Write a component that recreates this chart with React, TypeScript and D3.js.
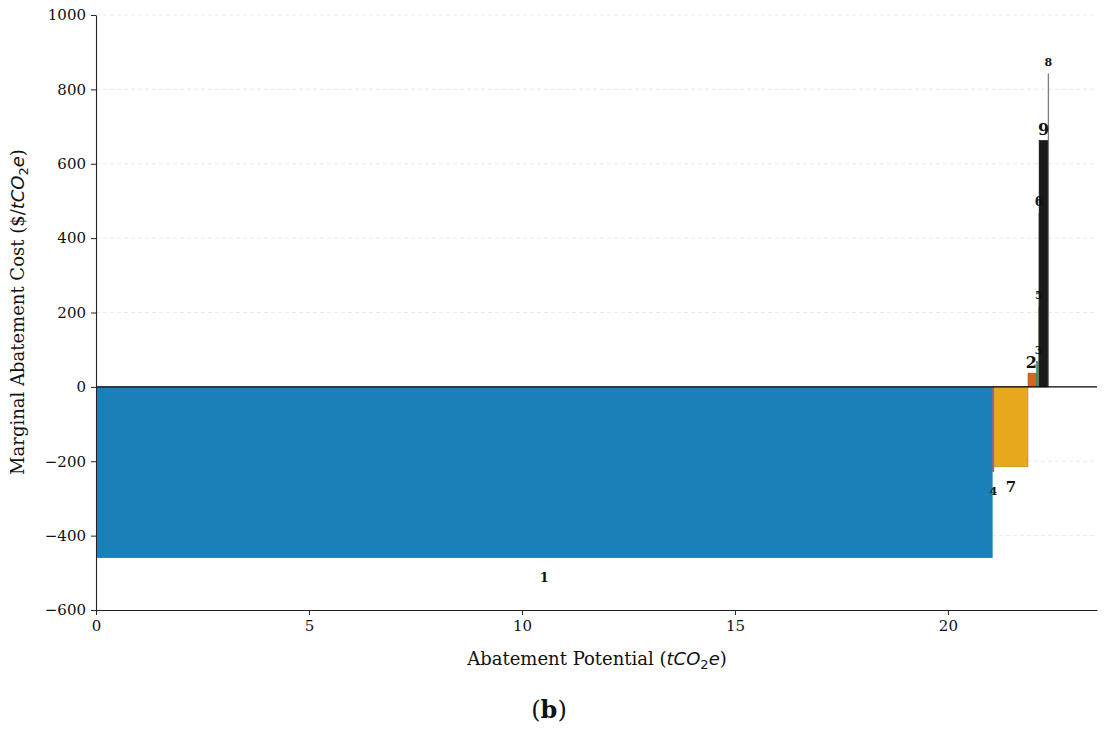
import React, { useEffect, useRef } from 'react';
import * as d3 from 'd3';

// measures in merit order (sorted by marginal cost)
const measureLabels = ['1', '4', '7', '2', '3', '5', '6', '9', '8'];
const potentials = [21.05, 0.03, 0.80, 0.2, 0.05, 0.005, 0.005, 0.21, 0.01];
const costs = [-460, -228, -215, 37, 68, 215, 467, 663, 842];
const barColors = ['#1b80b9', '#9c6478', '#e8a81e', '#d4671c', '#17a083', '#a3a02a', '#b8b8b8', '#1a1a1a', '#8a8a8a'];
const labelSizes = [13, 11, 15, 16, 11, 11, 12, 16, 11];
const xTicks = [0, 5, 10, 15, 20];
const yTicks = [-600, -400, -200, 0, 200, 400, 600, 800, 1000];

const W = 1107;
const H = 731;
const margin = { top: 15, right: 10, bottom: 121, left: 96 };

export default function App() {
  const ref = useRef<SVGSVGElement>(null);

  useEffect(() => {
    if (!ref.current) return;
    const svg = d3.select(ref.current);
    svg.selectAll('*').remove();

    const x = d3.scaleLinear().domain([0, 23.5]).range([margin.left, W - margin.right]);
    const y = d3.scaleLinear().domain([-600, 1000]).range([H - margin.bottom, margin.top]);

    const starts: number[] = [];
    let acc = 0;
    potentials.forEach(p => { starts.push(acc); acc += p; });

    const data = measureLabels.map((label, i) => ({
      label,
      x0: starts[i],
      x1: starts[i] + potentials[i],
      cost: costs[i],
      color: barColors[i],
      size: labelSizes[i],
    }));

    // grid
    svg.append('g')
      .selectAll('line')
      .data(yTicks.filter(t => t !== 0 && t !== -600))
      .enter()
      .append('line')
      .attr('x1', margin.left)
      .attr('x2', W - margin.right)
      .attr('y1', d => y(d))
      .attr('y2', d => y(d))
      .attr('stroke', '#e3e3e3')
      .attr('stroke-width', 0.8)
      .attr('stroke-dasharray', '4,3');

    // bars
    svg.append('g')
      .selectAll('rect')
      .data(data)
      .enter()
      .append('rect')
      .attr('x', d => x(d.x0))
      .attr('width', d => Math.max(0.8, x(d.x1) - x(d.x0)))
      .attr('y', d => Math.min(y(d.cost), y(0)))
      .attr('height', d => Math.abs(y(d.cost) - y(0)))
      .attr('fill', d => d.color)
      .attr('stroke', d => d3.color(d.color)!.darker(0.8).formatHex())
      .attr('stroke-width', d => (d.label === '1' ? 0 : 0.5));

    // labels
    svg.append('g')
      .selectAll('text')
      .data(data)
      .enter()
      .append('text')
      .attr('x', d => x((d.x0 + d.x1) / 2) + (d.label === '2' ? -1 : d.label === '3' ? 1 : 0))
      .attr('y', d => (d.cost >= 0 ? y(d.cost) - 11 : y(d.cost) + 20))
      .attr('text-anchor', 'middle')
      .attr('dominant-baseline', 'central')
      .attr('font-family', 'DejaVu Serif')
      .attr('font-weight', 'bold')
      .attr('font-size', d => d.size)
      .attr('fill', '#111')
      .text(d => d.label);

    // zero line
    svg.append('line')
      .attr('x1', margin.left)
      .attr('x2', W - margin.right)
      .attr('y1', y(0))
      .attr('y2', y(0))
      .attr('stroke', '#000')
      .attr('stroke-width', 1.4);

    // x axis
    const gx = svg.append('g')
      .attr('transform', `translate(0,${H - margin.bottom})`)
      .call(d3.axisBottom(x).tickValues(xTicks).tickFormat(d3.format('d')).tickSize(5).tickPadding(5).tickSizeOuter(0));
    gx.selectAll('text').attr('font-size', 15).attr('font-family', 'DejaVu Serif').attr('fill', '#111');
    gx.select('.domain').attr('stroke', '#222').attr('stroke-width', 1.1);
    gx.selectAll('.tick line').attr('stroke', '#222');

    // y axis
    const gy = svg.append('g')
      .attr('transform', `translate(${margin.left},0)`)
      .call(d3.axisLeft(y).tickValues(yTicks).tickFormat(d3.format('d')).tickSize(5).tickPadding(5).tickSizeOuter(0));
    gy.selectAll('text').attr('font-size', 15).attr('font-family', 'DejaVu Serif').attr('fill', '#111');
    gy.select('.domain').attr('stroke', '#222').attr('stroke-width', 1.1);
    gy.selectAll('.tick line').attr('stroke', '#222');
  }, []);

  const mathStyle = { fontFamily: 'DejaVu Sans', fontStyle: 'italic' as const };

  return (
    <div style={{ position: 'absolute', left: 0, top: 0, background: '#fff' }}>
      <svg width={W} height={H} style={{ display: 'block' }}>
        <g ref={ref as any} />
        <text x={597} y={665} textAnchor="middle" fontFamily="DejaVu Serif" fontSize={18} fill="#111">
          Abatement Potential (<tspan {...mathStyle}>tCO</tspan>
          <tspan fontFamily="DejaVu Sans" fontSize={13} dy={4}>2</tspan>
          <tspan {...mathStyle} dy={-4}>e</tspan>)
        </text>
        <text
          transform="translate(24,312) rotate(-90)"
          textAnchor="middle"
          fontFamily="DejaVu Serif"
          fontSize={18}
          fill="#111"
        >
          Marginal Abatement Cost ($/<tspan {...mathStyle}>tCO</tspan>
          <tspan fontFamily="DejaVu Sans" fontSize={13} dy={4}>2</tspan>
          <tspan {...mathStyle} dy={-4}>e</tspan>)
        </text>
        <text x={549} y={718} textAnchor="middle" fontFamily="DejaVu Serif" fontSize={24} fill="#111">
          (<tspan fontWeight="bold">b</tspan>)
        </text>
      </svg>
    </div>
  );
}
